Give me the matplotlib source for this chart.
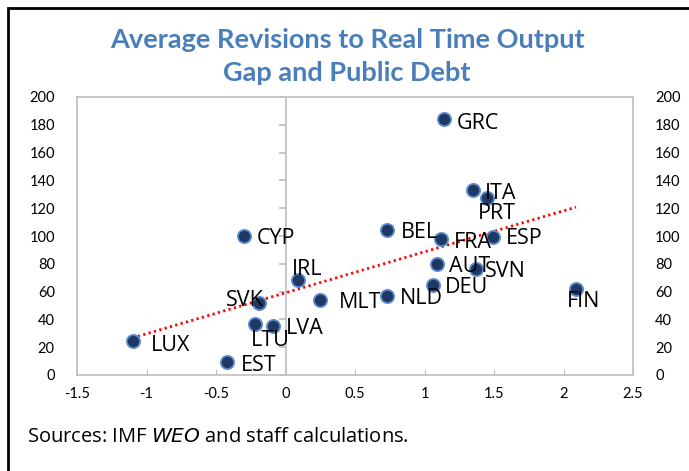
import numpy as np
import matplotlib
matplotlib.use('Agg')
from matplotlib import pyplot as plt
from matplotlib.patches import Rectangle
from matplotlib.lines import TICKLEFT

countries = ['GRC', 'ITA', 'PRT', 'BEL', 'FRA', 'ESP', 'CYP', 'AUT', 'SVN', 'DEU',
             'FIN', 'NLD', 'MLT', 'IRL', 'SVK', 'LTU', 'LVA', 'LUX', 'EST']
output_gap_rev = [1.14, 1.35, 1.45, 0.73, 1.12, 1.49, -0.30, 1.09, 1.37, 1.06,
                  2.09, 0.73, 0.25, 0.09, -0.19, -0.22, -0.09, -1.10, -0.42]
public_debt = [184, 133, 127, 104, 98, 99.5, 100, 80, 76.5, 65,
               62, 57, 54, 68.5, 52, 37, 35.5, 24.5, 9.4]

# label offsets in pixels (dx, dy, ha)
label_pos = {
    'GRC': (13, -4, 'left'), 'ITA': (12, -3, 'left'), 'PRT': (10, -15, 'center'),
    'BEL': (14, -2, 'left'), 'FRA': (13, -4, 'left'), 'ESP': (13, -2, 'left'),
    'CYP': (13, -3, 'left'), 'AUT': (12, -3, 'left'), 'SVN': (9, -3, 'left'),
    'DEU': (12, -3, 'left'), 'FIN': (8, -13, 'center'), 'NLD': (13, -3, 'left'),
    'MLT': (19, -3, 'left'), 'IRL': (9, 10, 'center'), 'SVK': (5, 2, 'right'),
    'LTU': (15, -17, 'center'), 'LVA': (13, -3, 'left'), 'LUX': (18, -5, 'left'),
    'EST': (14, -4, 'left'),
}

x = np.array(output_gap_rev)
y = np.array(public_debt)

fig = plt.figure(figsize=(6.89, 4.71), dpi=100)
ax = fig.add_axes([77/689, 96/471, 556/689, 278/471])

grey = '#BFBFBF'
for s in ax.spines.values():
    s.set_color(grey)
    s.set_linewidth(1.2)

ax.set_xlim(-1.5, 2.5)
ax.set_ylim(0, 200)
ax.set_xticks(np.arange(-1.5, 2.51, 0.5))
ax.set_xticklabels(['-1.5', '-1', '-0.5', '0', '0.5', '1', '1.5', '2', '2.5'])
yticks = np.arange(0, 201, 20)
ax.set_yticks(yticks)
ax.tick_params(axis='x', direction='in', length=4, color=grey, pad=9,
               labelsize=10.5, labelfontfamily='Lato')
ax.tick_params(axis='y', length=0, pad=16, labelsize=10.5,
               labelfontfamily='Lato', right=True, labelright=True)

# vertical axis through zero with ticks
ax.axvline(0, color=grey, lw=1.2, zorder=1)
ax.plot(np.zeros(len(yticks)), yticks, ls='', marker=TICKLEFT, ms=5,
        mew=1.2, color=grey, zorder=1, clip_on=False)

# trend line
coef = np.polyfit(x, y, 1)
xs = np.array([x.min(), x.max()])
ax.plot(xs, np.polyval(coef, xs), color='#FF0000', lw=2,
        ls=(0, (0.8, 1.2)), zorder=2)

ax.scatter(x, y, s=90, color='#1F3864', edgecolors='#5B8BD0', linewidths=1.3,
           zorder=3)

for c, xi, yi in zip(countries, x, y):
    dx, dy, ha = label_pos[c]
    ax.annotate(c, (xi, yi), xytext=(dx * 0.72, dy * 0.72),
                textcoords='offset points', ha=ha, va='center',
                fontsize=15.5, family='Open Sans', color='black', zorder=4)

fig.text(347/689, 1 - 40/471, 'Average Revisions to Real Time Output',
         ha='center', va='center', fontsize=19.5, fontweight='bold',
         family='Lato', color='#4A7EBB')
fig.text(347/689, 1 - 73/471, 'Gap and Public Debt',
         ha='center', va='center', fontsize=19.5, fontweight='bold',
         family='Lato', color='#4A7EBB')

fig.text(27/689, 1 - 437/471, 'Sources: IMF $\\it{WEO}$ and staff calculations.',
         ha='left', va='center', fontsize=14.5, family='Open Sans')

fig.add_artist(Rectangle((8/689, -0.1), 1.2, 1.1 - 8/471,
                         transform=fig.transFigure, fill=False,
                         edgecolor='black', lw=2))

fig.savefig('out.png', dpi=100)
